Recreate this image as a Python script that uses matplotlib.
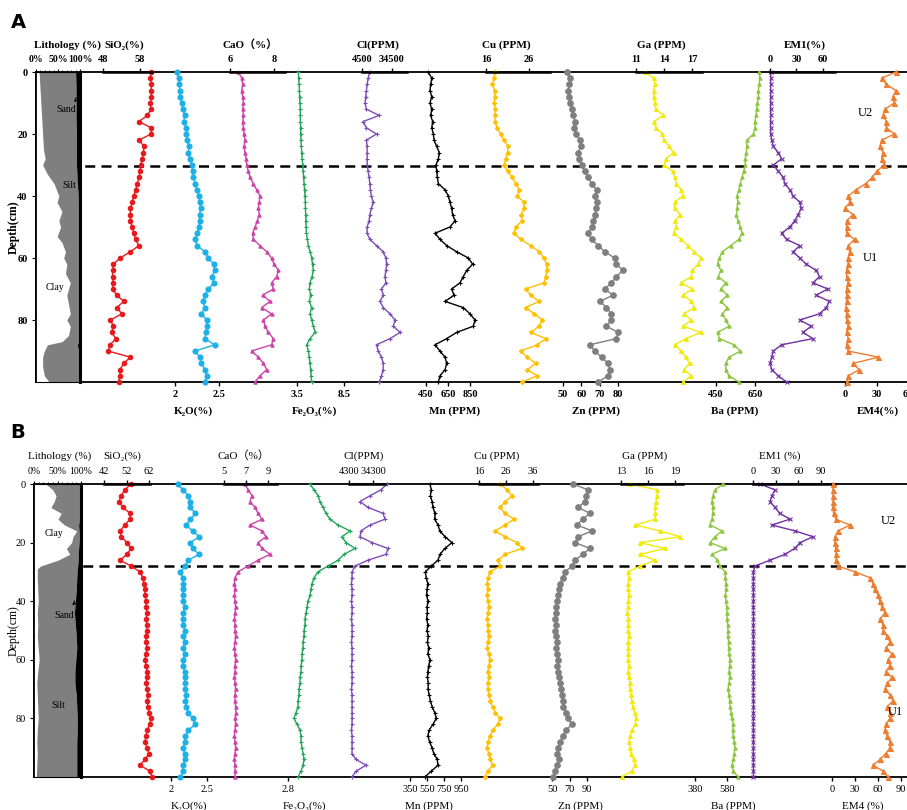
import numpy as np
import matplotlib.pyplot as plt
from matplotlib.patches import FancyArrowPatch

plt.rcParams['font.family'] = ['Liberation Serif', 'DejaVu Serif', 'Noto Sans CJK SC']

# ---------------- data: core A ----------------
depth_a = np.arange(0, 101, 2)
sio2_a = [61.1, 60.8, 61.1, 61.0, 61.1, 60.8, 61.0, 60.0, 57.7, 61.0, 61.0, 57.7, 59.1, 58.9, 58.6, 58.2, 58.0,
          57.7, 57.3, 56.8, 56.3, 55.9, 55.4, 55.4, 55.4, 55.9, 56.3, 56.8, 57.7, 55.4, 52.6, 50.8, 50.6, 50.6,
          50.8, 50.6, 51.7, 53.6, 51.7, 53.1, 50.0, 50.8, 50.3, 51.5, 49.9, 49.4, 55.4, 53.6, 52.6, 52.6, 52.2]
k2o_a = [2.02, 2.04, 2.05, 2.06, 2.06, 2.08, 2.09, 2.11, 2.10, 2.13, 2.13, 2.14, 2.16, 2.15, 2.17, 2.19, 2.20,
         2.21, 2.23, 2.25, 2.27, 2.28, 2.29, 2.28, 2.28, 2.27, 2.25, 2.23, 2.25, 2.34, 2.38, 2.44, 2.45, 2.42,
         2.44, 2.38, 2.34, 2.32, 2.34, 2.30, 2.36, 2.36, 2.35, 2.34, 2.45, 2.23, 2.28, 2.30, 2.34, 2.36, 2.34]
cao_a = [6.38, 6.53, 6.58, 6.53, 6.58, 6.61, 6.58, 6.61, 6.58, 6.61, 6.64, 6.68, 6.64, 6.68, 6.73, 6.76, 6.83,
         6.91, 7.06, 7.21, 7.36, 7.33, 7.29, 7.33, 7.24, 7.14, 7.03, 7.06, 7.36, 7.67, 7.89, 8.0, 8.2, 8.12,
         7.89, 7.97, 7.48, 7.82, 7.44, 7.89, 7.52, 7.59, 7.74, 7.97, 7.89, 6.98, 7.29, 7.52, 7.67, 7.36, 7.14]
fe2o3_a = [3.64, 3.68, 3.72, 3.75, 3.78, 3.82, 3.84, 3.85, 3.86, 3.88, 3.89, 3.92, 3.96, 4.0, 4.05, 4.10, 4.15,
           4.2, 4.25, 4.3, 4.35, 4.38, 4.4, 4.42, 4.44, 4.46, 4.5, 4.6, 4.71, 4.9, 5.06, 5.15, 5.24, 5.1, 4.88,
           4.81, 4.95, 4.81, 5.06, 4.88, 5.06, 5.24, 5.42, 4.88, 4.53, 4.71, 4.8, 4.88, 4.95, 5.0, 5.06]
cl_a = [12300, 10600, 9600, 8900, 8200, 7500, 8900, 21700, 5500, 8900, 19000, 8900, 9600, 9600, 9600, 9600,
        10600, 11600, 12300, 12900, 13900, 15600, 13900, 12300, 11600, 9600, 9600, 12300, 19000, 25700, 28400,
        29100, 28400, 27400, 28400, 24000, 25700, 22400, 25700, 32500, 37500, 35800, 42600, 32500, 19000,
        20700, 24000, 25700, 25700, 24000, 21700]
mn_a = [471, 502, 492, 486, 502, 486, 502, 492, 511, 502, 517, 523, 547, 571, 562, 541, 547, 553, 562, 623,
        653, 668, 683, 692, 714, 668, 532, 577, 638, 729, 835, 874, 820, 789, 759, 683, 705, 623, 789, 850,
        895, 880, 729, 638, 532, 577, 623, 638, 623, 577, 562]
cu_a = [18.0, 17.9, 17.5, 18.0, 18.0, 17.9, 18.2, 18.0, 18.2, 18.5, 19.4, 20.2, 21.1, 21.0, 20.6, 20.2, 21.0,
        22.1, 22.9, 23.7, 23.3, 24.8, 24.8, 24.2, 24.4, 22.9, 22.5, 24.1, 26.4, 28.3, 29.5, 30.1, 30.1, 29.9,
        29.5, 25.2, 26.4, 28.3, 25.2, 27.2, 29.1, 28.3, 26.4, 29.9, 27.9, 24.1, 25.6, 27.6, 25.6, 27.9, 24.4]
zn_a = [52.4, 53.8, 53.4, 52.9, 53.4, 53.8, 54.7, 55.6, 56.5, 56.0, 57.1, 59.2, 59.6, 58.3, 58.9, 60.1, 61.9,
        63.7, 65.6, 68.3, 67.4, 68.3, 67.9, 67.4, 66.5, 65.6, 63.7, 65.6, 69.2, 72.8, 78.2, 79.1, 82.7, 79.1,
        76.4, 72.8, 77.3, 70.1, 73.7, 76.4, 76.4, 73.7, 80.0, 79.1, 64.6, 67.4, 71.0, 74.6, 75.5, 74.6, 69.2]
ga_a = [12.0, 12.9, 13.0, 12.9, 12.9, 13.0, 13.1, 13.9, 12.9, 13.1, 13.8, 14.0, 14.5, 15.0, 14.2, 14.0, 14.9,
        15.1, 15.3, 15.8, 16.0, 15.1, 15.1, 15.7, 15.1, 15.3, 15.0, 15.8, 16.5, 17.2, 17.9, 17.6, 17.0, 16.9,
        15.8, 17.0, 16.0, 16.9, 17.2, 16.1, 16.9, 16.0, 17.9, 16.3, 15.1, 15.8, 16.3, 16.7, 16.1, 16.9, 16.0]
ba_a = [672, 675, 672, 667, 667, 662, 658, 655, 650, 650, 642, 608, 608, 605, 600, 600, 592, 583, 575, 567,
        558, 562, 558, 555, 562, 575, 583, 567, 525, 483, 467, 458, 475, 462, 500, 475, 508, 475, 508, 483,
        500, 517, 458, 467, 542, 575, 517, 500, 500, 517, 567]
em1_a = [0.8, 0.9, 0.8, 0.8, 0.9, 0.8, 0.8, 0.9, 0.8, 0.8, 0.9, 1.9, 3.8, 9.4, 13.1, 3.8, 9.4, 15.0, 16.9,
         22.5, 26.3, 33.8, 35.6, 31.9, 28.1, 22.5, 13.1, 18.8, 33.8, 26.3, 33.8, 41.3, 52.5, 56.3, 48.8, 65.6,
         52.5, 67.5, 63.8, 56.3, 33.8, 46.9, 37.5, 48.8, 13.1, 3.8, 1.9, 0.0, 1.9, 9.4, 18.8]
em4_a = [48.5, 34.8, 39.4, 48.5, 45.5, 47.0, 37.9, 36.4, 39.4, 39.4, 47.0, 34.8, 33.3, 36.4, 34.8, 37.3, 30.3,
         25.8, 19.7, 10.6, 3.0, 4.5, 0.0, 7.6, 1.5, 1.5, 1.5, 9.1, 3.0, 4.5, 3.0, 3.0, 1.5, 1.5, 3.0, 1.5, 1.5,
         1.5, 0.9, 1.5, 1.5, 3.0, 1.5, 3.0, 1.5, 3.0, 31.8, 7.6, 13.6, 3.0, 1.5]
lith_depth_a = [0, 5, 10, 15, 20, 25, 28, 30, 33, 36, 40, 42, 45, 48, 50, 53, 55, 58, 60, 62, 65, 68, 70, 72,
                75, 78, 80, 82, 85, 87, 88, 90, 92, 95, 98, 100]
clay_a = [7, 9, 11, 13, 15, 17, 21, 15, 26, 41, 52, 48, 59, 52, 56, 48, 59, 67, 63, 70, 67, 78, 74, 70, 74, 78,
          70, 78, 74, 59, 26, 19, 15, 15, 19, 30]
sand_a = [10, 9, 9, 9, 8, 8, 8, 8, 7, 6, 4, 4, 3, 3, 3, 3, 3, 3, 3, 3, 3, 3, 3, 3, 3, 3, 3, 3, 3, 3, 6, 3, 3, 3,
          3, 3]

# ---------------- data: core B ----------------
depth_b = np.arange(0, 101, 2)
sio2_b = [54.0, 51.3, 49.6, 48.7, 50.4, 53.6, 53.6, 51.3, 49.1, 49.6, 52.2, 54.0, 52.2, 49.1, 54.0, 58.0, 59.3,
          59.8, 60.2, 60.2, 60.7, 60.7, 61.1, 60.7, 61.1, 61.1, 60.7, 60.7, 61.1, 60.7, 60.2, 60.7, 61.1, 61.1,
          60.7, 61.1, 61.6, 61.1, 61.6, 62.0, 62.8, 62.4, 61.1, 60.7, 60.2, 61.1, 62.0, 60.2, 58.0, 62.4, 63.3]
k2o_b = [2.10, 2.16, 2.24, 2.27, 2.26, 2.34, 2.27, 2.21, 2.30, 2.39, 2.27, 2.30, 2.39, 2.24, 2.20, 2.13, 2.16,
         2.17, 2.16, 2.17, 2.17, 2.19, 2.17, 2.16, 2.17, 2.19, 2.17, 2.19, 2.17, 2.19, 2.17, 2.16, 2.19, 2.20,
         2.19, 2.20, 2.21, 2.20, 2.21, 2.24, 2.30, 2.34, 2.24, 2.20, 2.19, 2.17, 2.19, 2.20, 2.16, 2.17, 2.13]
cao_b = [6.91, 7.18, 7.55, 7.36, 7.82, 8.09, 8.45, 7.36, 8.45, 8.82, 8.09, 8.45, 9.18, 8.09, 7.18, 6.27, 6.0,
         5.95, 6.0, 5.95, 6.0, 6.05, 6.0, 5.95, 6.0, 6.0, 6.05, 6.0, 5.95, 6.0, 6.05, 6.0, 6.0, 5.95, 6.0, 6.05,
         6.0, 6.0, 6.05, 6.09, 6.0, 6.05, 6.0, 5.95, 6.0, 6.05, 6.0, 5.95, 6.0, 6.0, 6.0]
fe2o3_b = [3.02, 3.06, 3.10, 3.12, 3.15, 3.18, 3.22, 3.30, 3.42, 3.34, 3.38, 3.47, 3.36, 3.30, 3.20, 3.10,
           3.06, 3.04, 3.03, 3.02, 3.00, 2.99, 2.98, 2.97, 2.97, 2.96, 2.96, 2.95, 2.95, 2.94, 2.94, 2.93, 2.93,
           2.92, 2.92, 2.91, 2.91, 2.90, 2.90, 2.88, 2.86, 2.89, 2.92, 2.93, 2.93, 2.94, 2.95, 2.96, 2.95, 2.93,
           2.90]
cl_b = [51800, 44300, 30550, 18050, 28050, 46800, 49300, 30550, 19300, 18050, 33050, 53050, 50550, 28050,
        11800, 8050, 8050, 7400, 8050, 8050, 7400, 8050, 8050, 7400, 8050, 8050, 8050, 7400, 8050, 8050, 8050,
        7400, 8050, 8050, 8050, 7400, 8050, 8050, 8050, 8050, 8050, 8050, 7400, 8050, 8050, 8050, 8050,
        13050, 25550, 13050, 8050]
mn_b = [585, 600, 590, 610, 620, 644, 640, 680, 700, 762, 844, 760, 703, 679, 600, 530, 540, 560, 550, 545,
        562, 550, 555, 545, 560, 550, 565, 555, 570, 560, 585, 570, 560, 555, 565, 562, 575, 590, 610, 640,
        660, 620, 575, 560, 580, 609, 630, 670, 679, 600, 526]
cu_b = [23.8, 26.5, 28.2, 25.6, 23.8, 25.6, 29.0, 25.6, 22.0, 25.6, 30.0, 31.9, 25.6, 23.0, 23.8, 20.1, 19.3,
        19.0, 19.3, 19.0, 19.3, 19.6, 19.3, 19.0, 19.3, 19.3, 19.6, 19.3, 19.0, 19.6, 20.1, 19.6, 19.3, 19.6,
        19.3, 19.3, 19.6, 20.1, 21.0, 22.0, 23.8, 23.0, 21.0, 20.1, 19.3, 19.0, 19.6, 20.1, 21.0, 19.3, 18.2]
zn_b = [74.0, 91.1, 89.0, 87.7, 79.7, 93.4, 85.0, 78.6, 95.7, 79.7, 76.3, 93.4, 85.0, 76.3, 72.9, 64.9, 62.0,
        59.1, 58.0, 56.9, 56.0, 54.6, 54.6, 53.4, 54.6, 53.4, 54.6, 56.0, 54.6, 56.0, 56.9, 56.0, 56.9, 58.0,
        59.1, 60.0, 61.0, 62.0, 63.0, 66.0, 68.0, 72.9, 66.0, 62.0, 59.1, 56.9, 56.0, 58.0, 56.0, 53.4, 51.1]
ga_b = [14.0, 17.0, 17.0, 16.9, 16.8, 16.8, 16.8, 14.6, 17.3, 19.6, 15.1, 17.9, 15.1, 16.8, 15.1, 13.8, 13.9,
        13.8, 13.8, 13.9, 13.8, 13.8, 13.7, 13.8, 13.8, 13.8, 13.9, 13.8, 13.8, 13.8, 13.8, 13.9, 13.8, 13.9,
        14.0, 14.0, 14.1, 14.2, 14.3, 14.5, 14.7, 14.6, 14.2, 14.0, 13.9, 14.0, 14.1, 14.4, 14.6, 14.2, 13.1]
ba_b = [555, 505, 492, 486, 492, 492, 486, 474, 549, 505, 474, 568, 486, 520, 536, 568, 570, 574, 574, 570,
        574, 578, 580, 580, 584, 586, 586, 590, 590, 594, 599, 596, 594, 596, 594, 586, 594, 596, 599, 605,
        611, 620, 615, 620, 625, 630, 625, 620, 611, 620, 649]
em1_b = [9.2, 29.0, 25.0, 22.4, 29.0, 35.0, 48.8, 25.0, 55.4, 79.2, 62.0, 55.0, 42.2, 22.4, 2.6, 0.5, 0.6,
         0.4, 0.5, 0.6, 0.5, 0.4, 0.5, 0.6, 0.5, 0.5, 0.4, 0.6, 0.5, 0.5, 0.6, 0.4, 0.5, 0.5, 0.6, 0.5, 0.4,
         0.5, 0.6, 0.5, 0.5, 0.4, 0.6, 0.5, 0.5, 0.6, 0.4, 0.5, 0.5, 0.6, 0.5]
em4_b = [1.3, 1.3, 1.3, 1.3, 1.3, 2.0, 5.0, 23.5, 7.8, 3.9, 3.9, 5.2, 5.2, 5.2, 7.8, 30.0, 49.6, 53.5, 56.1,
         60.0, 62.6, 65.0, 69.1, 62.6, 66.5, 66.5, 72.0, 75.6, 70.0, 78.2, 73.0, 75.6, 70.0, 78.2, 72.0, 69.1,
         75.6, 79.5, 72.0, 75.6, 75.6, 70.0, 69.1, 72.0, 75.6, 75.6, 70.0, 62.6, 53.5, 66.5, 73.0]
lith_depth_b = [0, 2, 4, 6, 8, 10, 12, 14, 16, 18, 20, 22, 24, 26, 28, 29, 32, 36, 40, 44, 48, 52, 56, 60, 64,
                68, 72, 76, 80, 84, 88, 92, 96, 100]
clay_b = [25, 40, 47, 43, 36, 58, 51, 65, 91, 83, 80, 69, 76, 51, 14, 7, 7, 8, 9, 7, 8, 7, 9, 11, 8, 6, 7, 8,
          9, 7, 6, 7, 6, 5]
sand_b = [2, 2, 2, 2, 2, 2, 3, 5, 4, 3, 4, 5, 6, 6, 7, 8, 9, 10, 12, 14, 12, 10, 9, 11, 13, 13, 10, 9, 8, 8, 9,
          9, 9, 9]

boundary_a = 30.3
boundary_b = 28.0

W, H = 907, 810
fig = plt.figure(figsize=(W / 100, H / 100), dpi=100)


def px_axes(x0, x1, ytop, ybot):
    return fig.add_axes([x0 / W, 1 - ybot / H, (x1 - x0) / W, (ybot - ytop) / H])


def ftext(x, y, s, **kw):
    fig.text(x / W, 1 - y / H, s, **kw)


def draw_track(panel, vals, depth, style, scale, label):
    ytop, ybot, weight = panel['ytop'], panel['ybot'], panel['weight']
    color, marker, ms = style
    side, ticks, ticklabels, p0, ppu, pend, lab_x = scale
    ax = px_axes(p0, pend, ytop, ybot)
    ax.set_xlim(ticks[0], ticks[0] + (pend - p0) / ppu)
    ax.set_ylim(100, 0)
    ax.patch.set_visible(False)
    for s in ax.spines.values():
        s.set_visible(False)
    ax.set_yticks([])
    ax.plot(vals, depth, color=color, marker=marker, ms=ms, lw=1.0, mew=0.8, clip_on=False)
    ax.set_xticks(ticks)
    ax.set_xticklabels(ticklabels, fontsize=7.5, fontweight=weight)
    ax.tick_params(axis='x', direction='out', length=3, width=1, pad=3)
    if side == 'top':
        ax.xaxis.tick_top()
        ax.spines['top'].set_visible(True)
        ax.spines['top'].set_linewidth(1.8)
        ftext(lab_x, panel['top_lab'], label, ha='center', va='center', fontsize=8, fontweight=weight)
    else:
        ax.xaxis.tick_bottom()
        ftext(lab_x, panel['bot_lab'], label, ha='center', va='center', fontsize=8, fontweight=weight)


def draw_panel(panel, depth, series, styles, scales, labels, lith, boundary, notes):
    ytop, ybot, weight = panel['ytop'], panel['ybot'], panel['weight']
    left = panel['left']
    ax = px_axes(left, 940, ytop, ybot)
    ax.set_ylim(100, 0)
    ax.set_xlim(0, 1)
    ax.set_xticks([])
    ax.set_yticks([0, 20, 40, 60, 80])
    ax.set_yticklabels(['0', '20', '40', '60', '80'], fontsize=7.5, fontweight=weight)
    ax.tick_params(axis='y', direction='out', length=3, pad=3)
    ax.spines['right'].set_visible(False)
    for k in ['left', 'top', 'bottom']:
        ax.spines[k].set_linewidth(1.3)
    ax.set_ylabel('Depth(cm)', fontsize=8.5, fontweight=weight)
    ax.yaxis.set_label_coords((20 - left) / (940 - left), 0.5)
    ax.axhline(boundary, color='black', ls=(0, (4, 2.5)), lw=1.8)

    # lithology column
    ldepth, clay, sand = lith
    lax = px_axes(left, panel['lith_right'], ytop, ybot)
    lax.set_ylim(100, 0)
    lax.set_xlim(0, 100)
    silt_top = [100 - s for s in sand]
    lax.fill_betweenx(ldepth, clay, silt_top, color='#7f7f7f', lw=0)
    lax.fill_betweenx(ldepth, silt_top, 100, color='black', lw=0)
    lax.set_yticks([])
    lax.xaxis.tick_top()
    lax.set_xticks([0, 50, 100])
    lax.set_xticks(range(10, 100, 10), minor=True)
    lax.set_xticklabels(['0%', '50%', '100%'], fontsize=7, fontweight=weight)
    lax.tick_params(axis='x', which='both', direction='out', length=2.5, pad=3)
    lax.tick_params(axis='x', which='minor', length=1.5)
    lax.spines['right'].set_linewidth(2.2)
    lax.spines['left'].set_linewidth(1.3)
    ftext(panel['lith_lab_x'], panel['top_lab'], 'Lithology (%)', ha='center', va='center', fontsize=8,
          fontweight=weight)
    for txt, x, y in notes['lith']:
        ftext(x, y, txt, ha='center', va='center', fontsize=7)
    (hx, hy), (tx, ty) = notes['arrow']
    fig.patches.append(FancyArrowPatch(
        (tx / W, 1 - ty / H), (hx / W, 1 - hy / H), transform=fig.transFigure,
        arrowstyle='->', mutation_scale=6, color='black', lw=0.8))

    for vals, st, sc, lb in zip(series, styles, scales, labels):
        draw_track(panel, vals, depth, st, sc, lb)

    for txt, x, y in notes['units']:
        ftext(x, y, txt, ha='center', va='center', fontsize=9)
    ftext(18, panel['letter_y'], panel['letter'], ha='center', va='center', fontsize=14,
          fontweight='bold', family='DejaVu Sans')


labels = ['SiO\u2082(%)', 'K\u2082O(%)', 'CaO\uff08%\uff09', 'Fe\u2082O\u2083(%)', 'Cl(PPM)', 'Mn (PPM)',
          'Cu (PPM)', 'Zn (PPM)', 'Ga (PPM)', 'Ba (PPM)']
styles = [('#e8191c', 'o', 3.2), ('#1cb0e8', 'o', 3.6), ('#cc44aa', '^', 2.4), ('#23a55a', '+', 2.5),
          ('#7e4db5', '+', 2.5), ('black', '+', 3.0), ('#ffc000', 'D', 2.2), ('#7f7f7f', 'o', 4.0),
          ('#f2ea0a', '^', 2.8), ('#8dc63f', '^', 2.4), ('#7030a0', 'x', 2.8), ('#ed7d31', '^', 3.6)]

panel_a = dict(ytop=72, ybot=382, weight='bold', left=36, lith_right=80, top_lab=45, bot_lab=411,
               lith_lab_x=67, letter='A', letter_y=22)
scales_a = [
    ('top', [48, 58], ['48', '58'], 103, 3.7, 152, 124),
    ('bottom', [2, 2.5], ['2', '2.5'], 175, 88, 219, 193),
    ('top', [6, 8], ['6', '8'], 230, 22, 285, 250),
    ('bottom', [3.5, 8.5], ['3.5', '8.5'], 297, 9.4, 344, 314),
    ('top', [4500, 34500], ['4500', '34500'], 362, 0.001, 407, 378),
    ('bottom', [450, 650, 850], ['450', '650', '850'], 426, 0.11, 470, 455),
    ('top', [16, 26], ['16', '26'], 486, 4.3, 550, 506),
    ('bottom', [50, 60, 70, 80], ['50', '60', '70', '80'], 563, 1.84, 618, 596),
    ('top', [11, 14, 17], ['11', '14', '17'], 636, 9.4, 702, 661),
    ('bottom', [450, 650], ['450', '650'], 716, 0.2, 755, 735),
    ('top', [0, 30, 60], ['0', '30', '60'], 770, 0.88, 835, 805),
    ('bottom', [0, 30, 60], ['0', '30', '60'], 845, 1.05, 920, 878),
]
notes_a = dict(lith=[('Sand', 66, 110), ('Silt', 69, 186), ('Clay', 55, 287)],
               arrow=((72, 104), (78, 98)),
               units=[('U2', 865, 113), ('U1', 870, 258)])
draw_panel(panel_a, depth_a,
           [sio2_a, k2o_a, cao_a, fe2o3_a, cl_a, mn_a, cu_a, zn_a, ga_a, ba_a, em1_a, em4_a],
           styles, scales_a, labels + ['EM1(%)', 'EM4(%)'], (lith_depth_a, clay_a, sand_a), boundary_a, notes_a)

panel_b = dict(ytop=484, ybot=777, weight='normal', left=34, lith_right=81, top_lab=456, bot_lab=806,
               lith_lab_x=60, letter='B', letter_y=433)
scales_b = [
    ('top', [42, 52, 62], ['42', '52', '62'], 104, 2.25, 150, 122),
    ('bottom', [2, 2.5], ['2', '2.5'], 171, 72, 207, 189),
    ('top', [5, 7, 9], ['5', '7', '9'], 224, 11, 277, 243),
    ('bottom', [2.8], ['2.8'], 288, 100, 340, 304),
    ('top', [4300, 34300], ['4300', '34300'], 349, 0.0008, 385, 364),
    ('bottom', [350, 550, 750, 950], ['350', '550', '750', '950'], 410, 0.085, 462, 429),
    ('top', [16, 26, 36], ['16', '26', '36'], 479, 2.7, 538, 497),
    ('bottom', [50, 70, 90], ['50', '70', '90'], 552, 0.875, 590, 580),
    ('top', [13, 16, 19], ['13', '16', '19'], 621, 9, 683, 645),
    ('bottom', [380, 580], ['380', '580'], 695, 0.16, 730, 733),
    ('top', [0, 30, 60, 90], ['0', '30', '60', '90'], 753, 0.758, 835, 780),
    ('bottom', [0, 30, 60, 90], ['0', '30', '60', '90'], 832, 0.767, 920, 863),
]
notes_b = dict(lith=[('Clay', 54, 533), ('Sand', 64, 616), ('Silt', 58, 705)],
               arrow=((70, 607), (77, 601)),
               units=[('U2', 888, 521), ('U1', 895, 712)])
draw_panel(panel_b, depth_b,
           [sio2_b, k2o_b, cao_b, fe2o3_b, cl_b, mn_b, cu_b, zn_b, ga_b, ba_b, em1_b, em4_b],
           styles, scales_b, labels + ['EM1 (%)', 'EM4 (%)'], (lith_depth_b, clay_b, sand_b), boundary_b, notes_b)

fig.savefig('out.png', dpi=100)
